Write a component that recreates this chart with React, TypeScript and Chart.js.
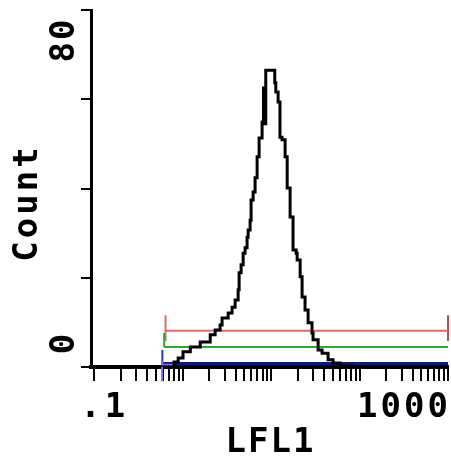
import { useEffect, useRef } from 'react';
import { Chart, registerables } from 'chart.js';

Chart.register(...registerables);

// Histogram (LFL1 channel value, count)
const histValues = [
  0.1, 0.8, 0.89, 1.01, 1.22, 1.58, 2.05, 2.33, 2.65, 2.79, 3.27, 3.62, 3.92, 4.24, 4.35, 4.58,
  4.83, 5.08, 5.35, 5.5, 5.79, 5.94, 6.26, 6.59, 6.95, 7.32, 7.91, 8.2, 8.4, 8.7, 9.2, 11.0,
  11.3, 12.0, 12.6, 13.3, 14.4, 15.2, 16.4, 17.7, 19.2, 19.7, 21.3, 22.4, 24.2, 26.2, 29.0,
  29.8, 34.0, 37.7, 44.1, 50.2, 60.3, 82.2, 90, 1000,
];
const histCounts = [
  0, 0, 1.1, 2.0, 3.4, 4.5, 5.6, 7.2, 8.3, 9.4, 11.0, 12.1, 13.4, 15.0, 17.3, 21.1,
  22.9, 25.5, 26.7, 29.1, 30.7, 32.9, 37.4, 39.2, 42.4, 47.1, 51.3, 54.9, 62.5, 54.5, 66.5, 66.5,
  63.7, 61.6, 59.4, 51.5, 50.9, 47.1, 40.1, 33.6, 26.2, 25.5, 24.0, 20.2, 15.7, 12.8, 9.9,
  7.6, 6.1, 3.8, 3.1, 1.6, 0.9, 0.2, 0, 0,
];

// Marker gates
const redGate = { start: 0.64, end: 1000, level: 8.1, low: 5.8, high: 11.6 };
const greenGate = { start: 0.618, end: 1000, level: 4.5, high: 7.6 };
const blueGate = { start: 0.59, end: 1000, level: 0.75, high: 3.8 };
const purpleGate = { start: 0.585, end: 0.8, level: 0.5, low: -3.2, high: 1.4 };

// Axes
const xMin = 0.092;
const xMax = 1000;
const xTickValues = [
  0.1, 0.2, 0.3, 0.4, 0.5, 0.6, 0.7, 0.8, 0.9,
  1, 2, 3, 4, 5, 6, 7, 8, 9,
  10, 20, 30, 40, 50, 60, 70, 80, 90,
  100, 200, 300, 400, 500, 600, 700, 800, 900,
  1000,
];
const xTickLabels = ['.1', '1000'];
const yMin = 0;
const yMax = 80;
const yTickValues = [0, 20, 40, 60, 80];
const yTickLabels = ['0', '80'];
const xTitle = 'LFL1';
const yTitle = 'Count';

const FONT = 'bold 34px "DejaVu Sans Mono", "Liberation Mono", monospace';

const seg = (pts: [number, number][]) => pts.map(([x, y]) => ({ x, y }));

const textPlugin = {
  id: 'textPlugin',
  afterDraw(chart: any) {
    const ctx = chart.ctx as CanvasRenderingContext2D;
    const xs = chart.scales.x;
    const ys = chart.scales.y;
    const area = chart.chartArea;
    ctx.save();
    ctx.fillStyle = '#000';
    ctx.font = FONT;
    ctx.textBaseline = 'alphabetic';
    (ctx as any).letterSpacing = '4px';
    const pMin = xs.getPixelForValue(0.1);
    const pMax = xs.getPixelForValue(1000);
    ctx.textAlign = 'left';
    ctx.fillText(xTickLabels[0], pMin - 14, 417);
    (ctx as any).letterSpacing = '3px';
    ctx.textAlign = 'right';
    ctx.fillText(xTickLabels[1], pMax + 3, 417);
    (ctx as any).letterSpacing = '2px';
    ctx.textAlign = 'center';
    ctx.fillText(xTitle, (area.left + area.right) / 2 + 1, 452);
    const drawRot = (t: string, x: number, y: number, spacing: string) => {
      ctx.save();
      (ctx as any).letterSpacing = spacing;
      ctx.translate(x, y);
      ctx.rotate(-Math.PI / 2);
      ctx.textAlign = 'center';
      ctx.fillText(t, 0, 0);
      ctx.restore();
    };
    const y80 = ys.getPixelForValue(80);
    const y0 = ys.getPixelForValue(0);
    drawRot(yTickLabels[1], 74, y80 + 30, '2px');
    drawRot(yTickLabels[0], 74, y0 - 23, '0px');
    drawRot(yTitle, 37, 203, '3px');
    ctx.restore();
  },
};

export default function App() {
  const ref = useRef<HTMLCanvasElement | null>(null);
  useEffect(() => {
    if (!ref.current) return;
    const lineDs = (data: any[], color: string, width: number, extra: any = {}) => ({
      data,
      borderColor: color,
      borderWidth: width,
      pointRadius: 0,
      fill: false,
      tension: 0,
      ...extra,
    });
    const chart = new Chart(ref.current, {
      type: 'line',
      data: {
        datasets: [
          lineDs(histValues.map((v, i) => ({ x: v, y: histCounts[i] })), '#000', 3, { stepped: 'after' }),
          lineDs(seg([[purpleGate.start, purpleGate.low], [purpleGate.start, purpleGate.high]]), '#8a6ae6', 2, { clip: false }),
          lineDs(seg([[purpleGate.start, purpleGate.level], [purpleGate.end, purpleGate.level]]), '#8a6ae6', 2),
          lineDs(seg([[blueGate.start, blueGate.level], [blueGate.start, blueGate.high]]), '#1a3fbf', 2, { clip: false }),
          lineDs(seg([[blueGate.start, blueGate.level], [blueGate.end, blueGate.level]]), '#0a1a80', 3.5, { clip: false }),
          lineDs(seg([[greenGate.start, greenGate.level], [greenGate.start, greenGate.high]]), '#2ea82e', 2),
          lineDs(seg([[greenGate.start, greenGate.level], [greenGate.end, greenGate.level]]), '#2ea82e', 2, { clip: false }),
          lineDs(seg([[redGate.start, redGate.low], [redGate.start, redGate.high]]), '#e06a6a', 2),
          lineDs(seg([[redGate.start, redGate.level], [redGate.end, redGate.level]]), '#e06a6a', 2, { clip: false }),
          lineDs(seg([[redGate.end, redGate.low], [redGate.end, redGate.high]]), '#c05050', 2, { clip: false }),
        ],
      },
      options: {
        animation: false,
        responsive: false,
        maintainAspectRatio: false,
        layout: { padding: { left: 0, right: 3, top: 10, bottom: 0 } },
        plugins: { legend: { display: false }, tooltip: { enabled: false } },
        scales: {
          x: {
            type: 'logarithmic',
            min: xMin,
            max: xMax,
            afterBuildTicks: (s: any) => {
              s.ticks = xTickValues.map((v) => ({ value: v }));
            },
            afterFit: (s: any) => {
              s.height = 94;
            },
            ticks: { display: false },
            grid: { drawOnChartArea: false, drawTicks: true, tickLength: 14, lineWidth: 2, color: '#000' },
            border: { display: true, color: '#000', width: 4 },
          },
          y: {
            type: 'linear',
            min: yMin,
            max: yMax,
            afterBuildTicks: (s: any) => {
              s.ticks = yTickValues.map((v) => ({ value: v }));
            },
            afterFit: (s: any) => {
              s.width = 91;
            },
            ticks: { display: false },
            grid: { drawOnChartArea: false, drawTicks: true, tickLength: 10, lineWidth: 2, color: '#000' },
            border: { display: true, color: '#000', width: 3 },
          },
        },
      },
      plugins: [textPlugin],
    } as any);
    return () => chart.destroy();
  }, []);
  return (
    <div style={{ position: 'absolute', left: 0, top: 0, width: 451, height: 461, background: '#fff' }}>
      <canvas ref={ref} width={451} height={461} style={{ display: 'block' }} />
    </div>
  );
}
